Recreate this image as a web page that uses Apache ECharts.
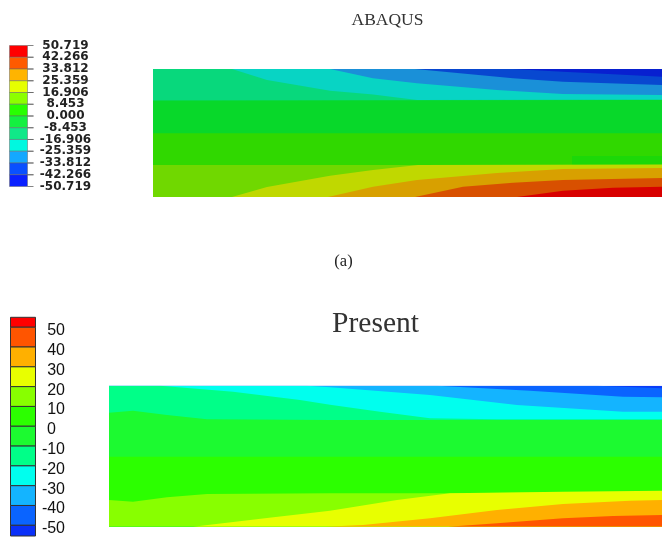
<!DOCTYPE html>
<html>
<head>
<meta charset="utf-8">
<style>html,body{margin:0;padding:0;background:#fff}#c{width:662px;height:538px}</style>
<script src="https://cdn.jsdelivr.net/npm/echarts@6/dist/echarts.min.js"></script>
</head>
<body>
<div id="c"></div>
<script>
// Contour levels shown on the two colour bars
const ticksA = [50.719, 42.266, 33.812, 25.359, 16.906, 8.453, 0, -8.453, -16.906, -25.359, -33.812, -42.266, -50.719];
const edgesB = [55, 50, 40, 30, 20, 10, 0, -10, -20, -30, -40, -50, -55.4];
const ticksB = [50, 40, 30, 20, 10, 0, -10, -20, -30, -40, -50];

// Colours, top band to bottom band
const barColorsA = ['#ff0000', '#ff5a00', '#ffb400', '#e6ff00', '#8cff00', '#28ff00', '#14f040', '#10e888', '#00f8e0', '#14a8ff', '#0a50ff', '#0a20ff'];
const barColorsB = ['#ff0000', '#ff5500', '#ffb000', '#e8ff00', '#88ff00', '#2cff00', '#1cfa30', '#00ff88', '#00ffee', '#14b4ff', '#0a64ff', '#0a30f8'];
const fieldColorsA = ['#0820d0', '#0848d0', '#1a90d8', '#08d4c4', '#08d87c', '#08d82a', '#30d800', '#1cd808', '#70d800', '#c0d800', '#d8a000', '#d85000', '#d80000'];
const fieldColorsB = ['#0a3cf8', '#0a64ff', '#14b4ff', '#00ffee', '#00ff88', '#1cfa30', '#2cff00', '#88ff00', '#e8ff00', '#ffb000', '#ff5500', '#ff0000'];

// ABAQUS contour lines: [distance along the beam, height above the lower edge]
const a0 = [[0, 128], [509, 128]];
const a1 = [[0, 128], [360, 128], [410, 125.3], [460, 122.7], [509, 120.3]];
const a2 = [[0, 128], [262, 128], [360, 118.7], [410, 115.3], [509, 112]];
const a3 = [[0, 128], [177, 128], [220, 118.7], [264, 113.7], [344, 107], [410, 103], [509, 102]];
const a4 = [[0, 128], [79, 128], [114, 117], [177, 106.3], [220, 102.5], [264, 97], [509, 97.5]];
const a5 = [[0, 96.5], [509, 97]];
const a6 = [[0, 63.7], [509, 63.7]];
const a6b = [[0, 0], [419, 0], [419, 41], [509, 41]];
const a7 = [[0, 32], [509, 32]];
const a8 = [[0, 0], [79, 0], [114, 10], [177, 21.3], [220, 27], [265, 32], [509, 32.5]];
const a9 = [[0, 0], [175, 0], [220, 10.3], [264, 17], [344, 24], [410, 28], [509, 29]];
const a10 = [[0, 0], [262, 0], [310, 10.3], [360, 14.3], [410, 17], [509, 19]];
const a11 = [[0, 0], [364, 0], [410, 6.3], [460, 9.3], [509, 10.3]];

// Present contour lines
const b0 = [[0, 141], [553, 141]];
const b1 = [[0, 141], [488, 141], [553, 138.4]];
const b2 = [[0, 141], [328, 141], [421, 136], [514, 130], [553, 129.4]];
const b3 = [[0, 141], [198, 141], [221, 139.4], [321, 131.7], [408, 121.7], [514, 115], [553, 115]];
const b4 = [[0, 141], [51, 141], [124, 135], [191, 126.7], [221, 122], [271, 115], [321, 108.4], [388, 107.4], [553, 107.4]];
const b5 = [[0, 114], [24, 116], [58, 111.7], [98, 107.4], [221, 106.7], [553, 106.7]];
const b6 = [[0, 70], [553, 70]];
const b7 = [[0, 26.7], [24, 25], [58, 29.4], [98, 32.7], [221, 33.4], [341, 33.4], [553, 35]];
const b8 = [[0, 0], [84, 0], [158, 8.7], [221, 16], [288, 26.7], [341, 33.4], [454, 35], [553, 36]];
const b9 = [[0, 0], [216, 0], [254, 1.7], [321, 8.4], [388, 16.7], [454, 22.7], [521, 26], [553, 26.7]];
const b10 = [[0, 0], [339, 0], [388, 3.4], [454, 8.4], [504, 10.7], [553, 11.7]];
const b11 = [[0, 0], [514, 0], [553, 1.7]];

const linesA = [a0, a1, a2, a3, a4, a5, a6, a6b, a7, a8, a9, a10, a11];
const linesB = [b0, b1, b2, b3, b4, b5, b6, b7, b8, b9, b10, b11];

function field(index, lines, colors) {
  return lines.map((d, i) => ({
    type: 'line', xAxisIndex: index, yAxisIndex: index, data: d,
    symbol: 'none', silent: true, animation: false,
    smooth: false,
    lineStyle: { width: 0, opacity: 0 },
    areaStyle: { color: colors[i], opacity: 1, origin: 'start' }
  }));
}
function bar(index, edges, colors, border, width, tick) {
  return {
    type: 'custom', xAxisIndex: index, yAxisIndex: index, silent: true, animation: false,
    data: colors.map((c, i) => [edges[i], edges[i + 1], i]),
    encode: { y: [0, 1] },
    renderItem(params, api) {
      const p1 = api.coord([0, api.value(0)]);
      const p2 = api.coord([1, api.value(1)]);
      const children = [{ type: 'rect', shape: { x: p1[0], y: p1[1], width: p2[0] - p1[0], height: p2[1] - p1[1] },
        style: { fill: colors[api.value(2)], stroke: border, lineWidth: width } }];
      if (tick) {
        [p1[1], p2[1]].forEach(y => children.push({ type: 'line',
          shape: { x1: p2[0], y1: y, x2: p2[0] + tick, y2: y }, style: { stroke: '#666', lineWidth: 0.8 } }));
      }
      return { type: 'group', children };
    }
  };
}
const hiddenX = i => ({ type: 'value', gridIndex: i, show: false, min: 0, max: i === 0 ? 509 : i === 1 ? 553 : 1 });
const hiddenY = (i, m) => ({ type: 'value', gridIndex: i, show: false, min: 0, max: m });
// The ABAQUS labels sit closer than their own height, so alternate ones go on a twin axis to keep them all shown.
const labelAxisA = values => ({ type: 'value', gridIndex: 2, position: 'right', min: -50.719, max: 50.719,
  splitLine: { show: false }, axisLine: { show: false }, axisTick: { show: false },
  axisLabel: { customValues: values, align: 'center', margin: 38, showMinLabel: true, showMaxLabel: true, hideOverlap: false,
    formatter: v => v.toFixed(3),
    fontFamily: 'DejaVu Sans', fontWeight: 'bold', fontSize: 12, color: '#222' } });

const edgesA = ticksA;
const numB = { fontFamily: 'Liberation Sans', fontSize: 16, color: '#111' };
const option = {
  backgroundColor: '#fff',
  title: [
    { text: 'ABAQUS', left: 382.5, top: 6, textAlign: 'center', textStyle: { fontFamily: 'Liberation Serif', fontSize: 17.5, fontWeight: 'normal', color: '#333' } },
    { text: '(a)', left: 338.5, top: 248.5, textAlign: 'center', textStyle: { fontFamily: 'Liberation Serif', fontSize: 16.5, fontWeight: 'normal', color: '#222' } },
    { text: 'Present', left: 370.5, top: 304, textAlign: 'center', textStyle: { fontFamily: 'Liberation Serif', fontSize: 29.5, fontWeight: 'normal', color: '#333' } }
  ],
  grid: [
    { left: 153, top: 69, width: 509, height: 128 },
    { left: 109, top: 385.7, width: 553, height: 141 },
    { left: 9.5, top: 45.5, width: 18, height: 141 },
    { left: 10.5, top: 317.3, width: 25, height: 218.7 }
  ],
  xAxis: [hiddenX(0), hiddenX(1), hiddenX(2), hiddenX(3)],
  yAxis: [
    hiddenY(0, 128), hiddenY(1, 141),
    labelAxisA(ticksA.filter((v, i) => i % 2 === 0)),
    { type: 'value', gridIndex: 3, position: 'right', min: -55.4, max: 55,
      splitLine: { show: false }, axisLine: { show: false }, axisTick: { show: false },
      axisLabel: { customValues: ticksB, align: 'right', margin: 29.5,
        formatter: v => (v === 0 ? '{z|0}' : '{t|' + v + '}'),
        rich: { t: { padding: [7, 0, 0, 0], ...numB }, z: { padding: [7, 9, 0, 0], ...numB } } } },
    labelAxisA(ticksA.filter((v, i) => i % 2 === 1))
  ],
  series: [
    ...field(0, linesA, fieldColorsA),
    ...field(1, linesB, fieldColorsB),
    bar(2, edgesA, barColorsA, '#666', 0.5, 6),
    bar(3, edgesB, barColorsB, '#333', 1, 0)
  ]
};
const chart = echarts.init(document.getElementById('c'), null, { renderer: 'canvas' });
chart.setOption(option);
</script>
</body>
</html>
